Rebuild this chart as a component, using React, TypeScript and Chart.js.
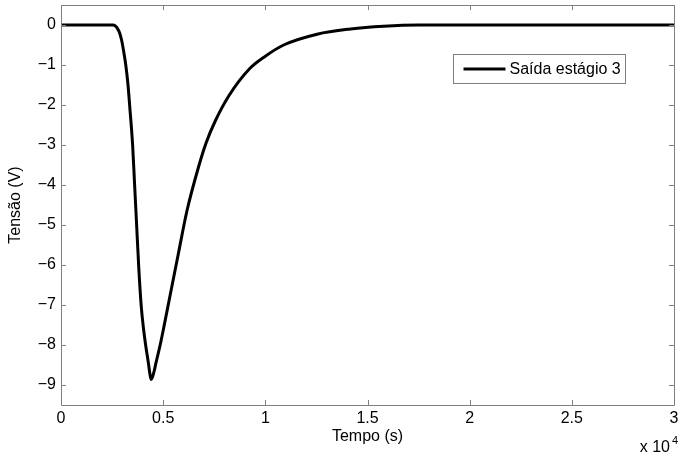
import React, { useEffect, useRef } from "react";
import { Chart, registerables } from "chart.js";

Chart.register(...registerables);

// Time (s) and output voltage (V)
const TIME = [
  0, 1000, 2000, 2400, 2549, 2647, 2745, 2870, 2975, 3080, 3170, 3280, 3358, 3505,
  3603, 3701, 3799, 3922, 4040, 4142, 4279, 4360, 4412, 4480, 4560, 4642,
  4853, 5015, 5343, 5750, 6162, 6730, 7100, 7549, 8201, 9216, 10000, 10897, 12534,
  14167, 15784, 17500, 20000, 25000, 30000,
];
const VOLTAGE = [
  0, 0, 0, 0, 0, -0.02, -0.07, -0.2, -0.4, -0.7, -1.0, -1.5, -2.0, -3.0,
  -4.0, -5.0, -6.0, -7.0, -7.6, -8.0, -8.46, -8.75, -8.86, -8.8, -8.65, -8.46,
  -8.0, -7.6, -6.75, -5.7, -4.65, -3.55, -2.95, -2.4, -1.78, -1.1, -0.78, -0.5, -0.23,
  -0.1, -0.03, 0, 0, 0, 0,
];
const SERIES_LABEL = "Saída estágio 3";

const X_TICKS = [0, 5000, 10000, 15000, 20000, 25000, 30000];
const X_TICK_LABELS = ["0", "0.5", "1", "1.5", "2", "2.5", "3"];
const Y_TICKS = [-9, -8, -7, -6, -5, -4, -3, -2, -1, 0];
const Y_TICK_LABELS = ["\u22129", "\u22128", "\u22127", "\u22126", "\u22125", "\u22124", "\u22123", "\u22122", "\u22121", "0"];
const X_TITLE = "Tempo (s)";
const Y_TITLE = "Tensão (V)";
const X_EXPONENT_BASE = "x 10";
const X_EXPONENT = "4";

const FONT = "'Liberation Sans', Arial, Helvetica, sans-serif";
const FONT_SIZE = 16;
const AXIS_GRAY = "#7f7f7f";

const boxPlugin = {
  id: "matlabBox",
  afterDatasetsDraw(chart: any) {
    const { ctx, chartArea } = chart;
    const { left, right, top, bottom } = chartArea;
    const xs = chart.scales.x;
    const ys = chart.scales.y;
    ctx.save();
    ctx.strokeStyle = AXIS_GRAY;
    ctx.lineWidth = 1;
    ctx.beginPath();
    ctx.rect(Math.round(left) + 0.5, Math.round(top) + 0.5, Math.round(right - left), Math.round(bottom - top));
    ctx.stroke();
    const tl = 5;
    ctx.beginPath();
    X_TICKS.forEach((v) => {
      const px = Math.round(xs.getPixelForValue(v)) + 0.5;
      ctx.moveTo(px, bottom);
      ctx.lineTo(px, bottom - tl);
      ctx.moveTo(px, top);
      ctx.lineTo(px, top + tl);
    });
    Y_TICKS.forEach((v) => {
      const py = Math.round(ys.getPixelForValue(v)) + 0.5;
      ctx.moveTo(left, py);
      ctx.lineTo(left + tl, py);
      ctx.moveTo(right, py);
      ctx.lineTo(right - tl, py);
    });
    ctx.stroke();

    // legend box
    const lw = 172;
    const lh = 29;
    const lx = Math.round(right) - 49 + 0.5 - lw;
    const ly = Math.round(top) + 49 + 0.5;
    ctx.fillStyle = "#fff";
    ctx.fillRect(lx, ly, lw, lh);
    ctx.strokeStyle = AXIS_GRAY;
    ctx.strokeRect(lx, ly, lw, lh);
    ctx.strokeStyle = "#000";
    ctx.lineWidth = 3;
    ctx.beginPath();
    ctx.moveTo(lx + 10, ly + 14.5);
    ctx.lineTo(lx + 52, ly + 14.5);
    ctx.stroke();
    ctx.fillStyle = "#000";
    ctx.font = `${FONT_SIZE}px ${FONT}`;
    ctx.textBaseline = "middle";
    ctx.textAlign = "left";
    ctx.fillText(chart.data.datasets[0].label, lx + 56, ly + 15);

    // exponent label
    ctx.textBaseline = "alphabetic";
    ctx.textAlign = "right";
    ctx.font = `${FONT_SIZE}px ${FONT}`;
    ctx.fillText(X_EXPONENT_BASE, right - 4, 452);
    ctx.textAlign = "left";
    ctx.font = `11px ${FONT}`;
    ctx.fillText(X_EXPONENT, right - 2, 444);
    ctx.restore();
  },
};

export default function App() {
  const canvasRef = useRef<HTMLCanvasElement | null>(null);

  useEffect(() => {
    const canvas = canvasRef.current;
    if (!canvas) return;
    const chart = new Chart(canvas, {
      type: "line",
      data: {
        datasets: [
          {
            label: SERIES_LABEL,
            data: TIME.map((t, i) => ({ x: t, y: VOLTAGE[i] })),
            borderColor: "#000",
            backgroundColor: "#000",
            borderWidth: 3,
            pointRadius: 0,
            cubicInterpolationMode: "monotone",
            fill: false,
          },
        ],
      },
      options: {
        responsive: false,
        animation: false,
        devicePixelRatio: 1,
        layout: { padding: { top: 5, right: 4, left: 0, bottom: 0 } },
        plugins: { legend: { display: false }, tooltip: { enabled: false } },
        scales: {
          x: {
            type: "linear",
            min: 0,
            max: 30000,
            afterBuildTicks: (scale: any) => {
              scale.ticks = X_TICKS.map((v) => ({ value: v }));
            },
            afterFit: (scale: any) => {
              scale.height = 48;
              scale.paddingLeft = 0;
              scale.paddingRight = 0;
            },
            grid: { display: false, drawTicks: false, tickLength: 0 },
            border: { display: false },
            ticks: {
              autoSkip: false,
              maxRotation: 0,
              padding: 4,
              color: "#000",
              font: { family: FONT, size: FONT_SIZE },
              callback: (_v: any, i: number) => X_TICK_LABELS[i],
            },
            title: {
              display: true,
              text: X_TITLE,
              color: "#000",
              font: { family: FONT, size: FONT_SIZE },
              padding: { top: 0, bottom: 7 },
            },
          },
          y: {
            type: "linear",
            min: -9.5,
            max: 0.5,
            afterBuildTicks: (scale: any) => {
              scale.ticks = Y_TICKS.map((v) => ({ value: v }));
            },
            afterFit: (scale: any) => {
              scale.width = 61;
              scale.paddingTop = 0;
              scale.paddingBottom = 0;
            },
            grid: { display: false, drawTicks: false, tickLength: 0 },
            border: { display: false },
            ticks: {
              autoSkip: false,
              padding: 5,
              color: "#000",
              font: { family: FONT, size: FONT_SIZE },
              callback: (_v: any, i: number) => Y_TICK_LABELS[i],
            },
            title: {
              display: true,
              text: Y_TITLE,
              color: "#000",
              font: { family: FONT, size: FONT_SIZE },
              padding: { top: 6, bottom: 0 },
            },
          },
        },
      },
      plugins: [boxPlugin],
    } as any);
    return () => chart.destroy();
  }, []);

  return (
    <div style={{ position: "fixed", left: 0, top: 0, width: 678, height: 453, background: "#fff" }}>
      <canvas ref={canvasRef} width={678} height={453} style={{ display: "block", width: 678, height: 453 }} />
    </div>
  );
}
